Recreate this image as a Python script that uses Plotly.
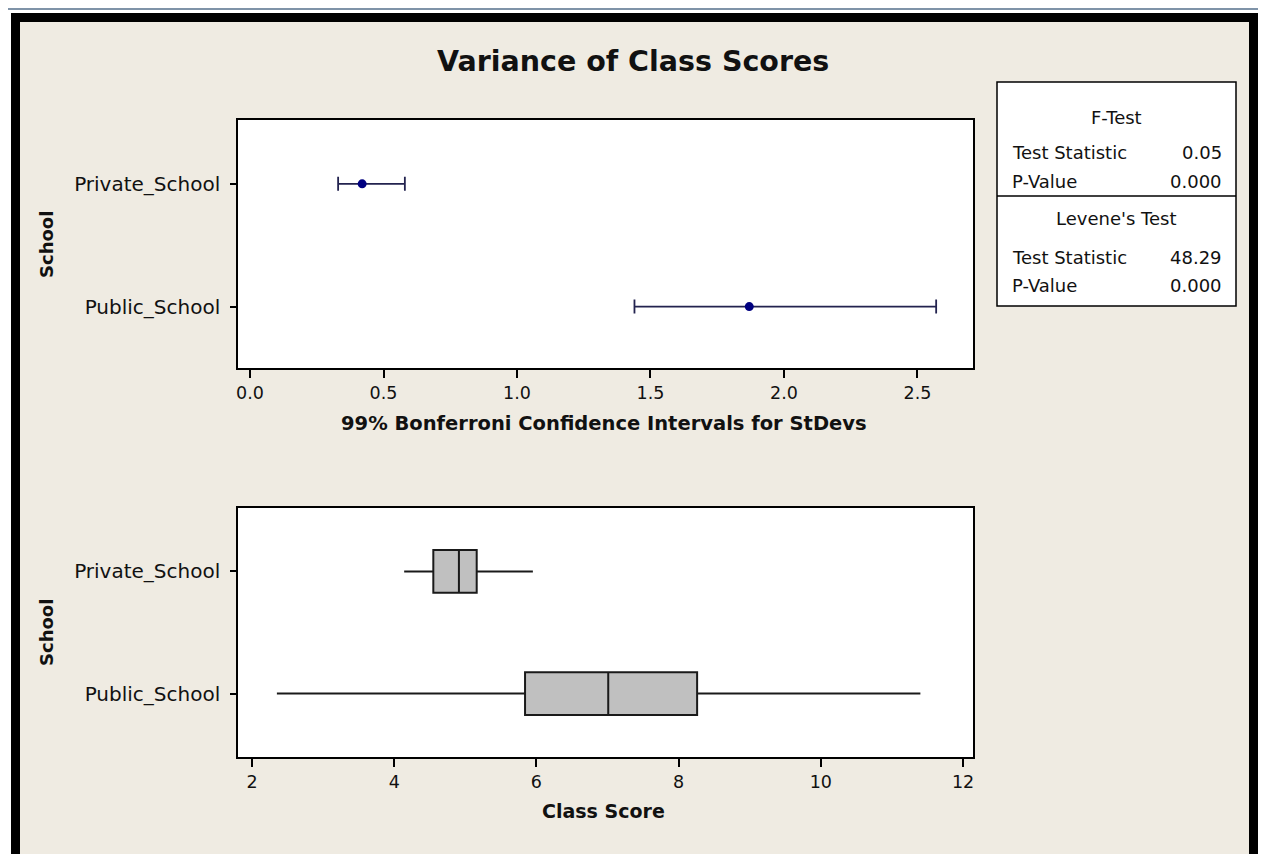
import plotly.graph_objects as go

# ---------------- data ----------------
schools = ["Private_School", "Public_School"]
stdev_est = [0.42, 1.87]
ci_lower = [0.33, 1.44]
ci_upper = [0.58, 2.57]

box_min = [4.14, 2.35]
box_q1 = [4.55, 5.84]
box_median = [4.91, 7.01]
box_q3 = [5.16, 8.26]
box_max = [5.95, 11.40]

top_ticks = [0.0, 0.5, 1.0, 1.5, 2.0, 2.5]
top_ticktext = ["0.0", "0.5", "1.0", "1.5", "2.0", "2.5"]
bottom_ticks = [2, 4, 6, 8, 10, 12]

title_text = "Variance of Class Scores"
top_xtitle = "99% Bonferroni Confidence Intervals for StDevs"
bottom_xtitle = "Class Score"
ytitle = "School"

table_rows = [
    ("header", "F-Test", None),
    ("row", "Test Statistic", "0.05"),
    ("row", "P-Value", "0.000"),
    ("header", "Levene's Test", None),
    ("row", "Test Statistic", "48.29"),
    ("row", "P-Value", "0.000"),
]

# ---------------- geometry helpers ----------------
# page body has an 8px margin, so the figure starts at (8, 8) on screen
OX, OY = 8, 8
W, H = 1266 - OX, 854 - OY
def px(x):
    return (x - OX) / W
def py(y):
    return 1 - (y - OY) / H

FONT = "DejaVu Sans"
BEIGE = "#EFEBE2"

fig = go.Figure()

# top: CI for stdevs
err_plus = [u - e for u, e in zip(ci_upper, stdev_est)]
err_minus = [e - l for e, l in zip(stdev_est, ci_lower)]
fig.add_trace(go.Scatter(
    x=stdev_est, y=schools, mode="markers",
    marker=dict(color="#000080", size=9, symbol="circle"),
    error_x=dict(type="data", symmetric=False, array=err_plus, arrayminus=err_minus,
                 color="#23234F", thickness=1.8, width=7),
    xaxis="x", yaxis="y", showlegend=False, hoverinfo="x+y",
))

# bottom: boxplots
fig.add_trace(go.Box(
    y=schools, q1=box_q1, median=box_median, q3=box_q3,
    lowerfence=box_min, upperfence=box_max,
    orientation="h", width=0.35, whiskerwidth=0,
    fillcolor="#C0C0C0", line=dict(color="#1A1A1A", width=2),
    xaxis="x2", yaxis="y2", showlegend=False, boxpoints=False,
))

axis_common = dict(
    showline=True, mirror=True, linecolor="black", linewidth=1.5,
    ticks="outside", tickcolor="black", showgrid=False, zeroline=False,
    automargin=False, tickfont=dict(family=FONT, size=17.5, color="#111"),
)
yaxis_common = dict(axis_common)
yaxis_common.update(
    type="category", categoryorder="array", categoryarray=["Public_School", "Private_School"],
    ticklen=6, tickwidth=1.5, tickfont=dict(family=FONT, size=20, color="#111"),
    ticklabelstandoff=6,
)

xdom = [px(238), px(973)]
fig.update_layout(
    width=W, height=H,
    margin=dict(l=0, r=0, t=0, b=0),
    paper_bgcolor=BEIGE, plot_bgcolor="white",
    font=dict(family=FONT, color="#111"),
    xaxis=dict(axis_common, domain=xdom, range=[-0.045, 2.708],
               tickvals=top_ticks, ticktext=top_ticktext, ticklen=8, tickwidth=1.5,
               anchor="y"),
    yaxis=dict(yaxis_common, domain=[py(368), py(120)], range=[-0.5, 1.52], anchor="x"),
    xaxis2=dict(axis_common, domain=xdom, range=[1.803, 12.14],
                tickvals=bottom_ticks, ticklen=8, tickwidth=1.5, anchor="y2"),
    yaxis2=dict(yaxis_common, domain=[py(757), py(508)], range=[-0.52, 1.52], anchor="x2"),
)

shapes = [
    # white page areas outside the window
    dict(type="rect", xref="paper", yref="paper", x0=px(8), x1=px(1266), y0=py(13), y1=py(8),
         fillcolor="white", line=dict(width=0), layer="below"),
    dict(type="rect", xref="paper", yref="paper", x0=px(8), x1=px(11), y0=py(854), y1=py(8),
         fillcolor="white", line=dict(width=0), layer="below"),
    dict(type="rect", xref="paper", yref="paper", x0=px(1260), x1=px(1266), y0=py(854), y1=py(8),
         fillcolor="white", line=dict(width=0), layer="below"),
    # thin outer grey-blue frame line (top)
    dict(type="rect", xref="paper", yref="paper", x0=px(8), x1=px(1264), y0=py(10), y1=py(8),
         fillcolor="#7F93A8", line=dict(width=0), layer="below"),
    # black window borders
    dict(type="rect", xref="paper", yref="paper", x0=px(11), x1=px(1260), y0=py(22), y1=py(13),
         fillcolor="black", line=dict(width=0), layer="below"),
    dict(type="rect", xref="paper", yref="paper", x0=px(11), x1=px(20), y0=py(854), y1=py(13),
         fillcolor="black", line=dict(width=0), layer="below"),
    dict(type="rect", xref="paper", yref="paper", x0=px(1249), x1=px(1260), y0=py(854), y1=py(13),
         fillcolor="black", line=dict(width=0), layer="below"),
    # table box
    dict(type="rect", xref="paper", yref="paper", x0=px(997), x1=px(1236), y0=py(306), y1=py(82),
         fillcolor="white", line=dict(color="black", width=1.5), layer="below"),
    dict(type="line", xref="paper", yref="paper", x0=px(997), x1=px(1236), y0=py(196), y1=py(196),
         line=dict(color="black", width=1.5), layer="below"),
]
fig.update_layout(shapes=shapes)

ann = []
ann.append(dict(text="<b>" + title_text + "</b>", x=px(633), y=py(62), xref="paper", yref="paper",
                showarrow=False, font=dict(family=FONT, size=28.5, color="#111"),
                xanchor="center", yanchor="middle"))
ann.append(dict(text="<b>" + top_xtitle + "</b>", x=px(604), y=py(423), xref="paper", yref="paper",
                showarrow=False, font=dict(family=FONT, size=19.5, color="#111"),
                xanchor="center", yanchor="middle"))
ann.append(dict(text="<b>" + bottom_xtitle + "</b>", x=px(603), y=py(811), xref="paper", yref="paper",
                showarrow=False, font=dict(family=FONT, size=19, color="#111"),
                xanchor="center", yanchor="middle"))
for yc in (245, 633):
    ann.append(dict(text="<b>" + ytitle + "</b>", x=px(46), y=py(yc), xref="paper", yref="paper",
                    showarrow=False, textangle=-90, font=dict(family=FONT, size=18, color="#111"),
                    xanchor="center", yanchor="middle"))

row_y = [117, 153, 182, 219, 257, 286]
for (kind, label, value), yc in zip(table_rows, row_y):
    if kind == "header":
        ann.append(dict(text=label, x=px(1116), y=py(yc), xref="paper", yref="paper",
                        showarrow=False, font=dict(family=FONT, size=18, color="#111"),
                        xanchor="center", yanchor="middle"))
    else:
        ann.append(dict(text=label, x=px(1010), y=py(yc), xref="paper", yref="paper",
                        showarrow=False, font=dict(family=FONT, size=18, color="#111"),
                        xanchor="left", yanchor="middle"))
        ann.append(dict(text=value, x=px(1224), y=py(yc), xref="paper", yref="paper",
                        showarrow=False, font=dict(family=FONT, size=18, color="#111"),
                        xanchor="right", yanchor="middle"))
fig.update_layout(annotations=ann)

fig.write_html("out.html")
